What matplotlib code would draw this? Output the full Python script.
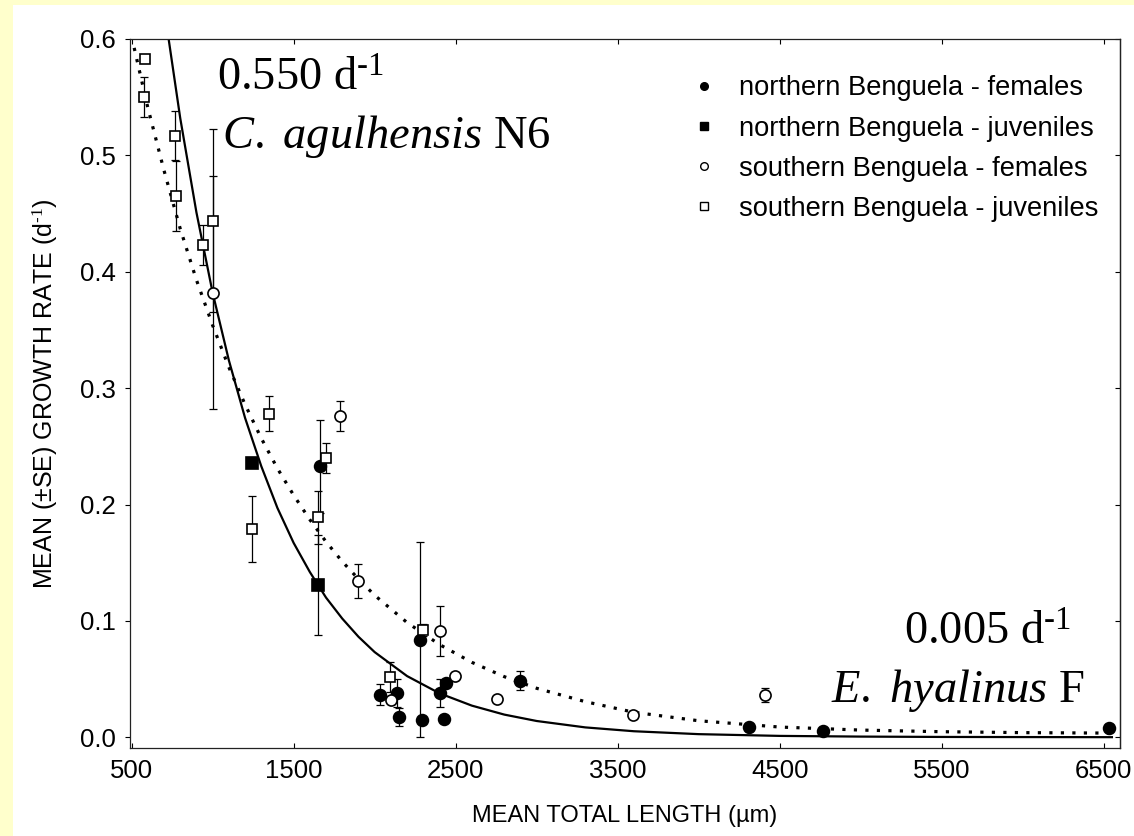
import matplotlib.pyplot as plt
from matplotlib.lines import Line2D
from matplotlib.patches import Rectangle

plt.rcParams['font.family'] = ['Liberation Sans', 'DejaVu Sans']
plt.rcParams['mathtext.fontset'] = 'custom'
plt.rcParams['mathtext.rm'] = 'Liberation Serif'
plt.rcParams['mathtext.it'] = 'Liberation Serif:italic'
plt.rcParams['mathtext.sf'] = 'Liberation Sans'

#%% data

# northern Benguela - females
nf_x = [1664, 2278, 2031, 2138, 2150, 2294, 2426, 2405, 2442, 2895, 4313, 4764, 6533]
nf_y = [0.233, 0.084, 0.0365, 0.038, 0.0174, 0.015, 0.016, 0.038, 0.0466, 0.0486, 0.009, 0.0056, 0.0084]
nf_err = [0.040, 0.084, 0.009, 0.012, 0.008, 0.0, 0.0, 0.012, 0.0, 0.008, 0.0, 0.0, 0.0]

# northern Benguela - juveniles
nj_x = [1245, 1650]
nj_y = [0.236, 0.1305]
nj_err = [0.0, 0.043]

# southern Benguela - females
sf_x = [1000, 1784, 1897, 2401, 2103, 2498, 2757, 3593, 4407]
sf_y = [0.382, 0.276, 0.134, 0.091, 0.032, 0.053, 0.033, 0.0193, 0.0365]
sf_err = [0.100, 0.013, 0.0145, 0.0215, 0.0, 0.003, 0.002, 0.003, 0.006]

# southern Benguela - juveniles
sj_x = [580, 576, 770, 776, 940, 1002, 1346, 1245, 1698, 1650, 2298, 2093]
sj_y = [0.583, 0.550, 0.517, 0.465, 0.423, 0.444, 0.278, 0.179, 0.240, 0.189, 0.092, 0.052]
sj_err = [0.0, 0.017, 0.021, 0.030, 0.017, 0.079, 0.015, 0.0285, 0.013, 0.023, 0.005, 0.013]

# fitted curves
fit_x = [500, 600, 700, 800, 900, 1000, 1100, 1200, 1300, 1400, 1500, 1600, 1700, 1800,
         1900, 2000, 2200, 2400, 2600, 2800, 3000, 3300, 3600, 4000, 4500, 5000, 5500,
         6000, 6550]
solid_y = [0.873, 0.739, 0.627, 0.532, 0.451, 0.382, 0.324, 0.2745, 0.233, 0.197, 0.167,
           0.142, 0.120, 0.102, 0.0864, 0.0732, 0.0526, 0.0378, 0.0272, 0.0195, 0.014,
           0.0085, 0.0052, 0.0027, 0.0012, 0.0006, 0.0003, 0.0002, 0.0001]
dotted_y = [0.602, 0.541, 0.487, 0.437, 0.393, 0.354, 0.318, 0.286, 0.257, 0.231, 0.208,
            0.187, 0.168, 0.151, 0.136, 0.122, 0.0986, 0.0797, 0.0644, 0.0521, 0.0421,
            0.0306, 0.0215, 0.0142, 0.0088, 0.0062, 0.0048, 0.0040, 0.0036]

labels = ['northern Benguela - females', 'northern Benguela - juveniles',
          'southern Benguela - females', 'southern Benguela - juveniles']
x_ticks = [500, 1500, 2500, 3500, 4500, 5500, 6500]
y_ticks = [0.0, 0.1, 0.2, 0.3, 0.4, 0.5, 0.6]

#%% figure

fig = plt.figure(figsize=(11.34, 8.36), dpi=100)
fig.patch.set_facecolor('#FFFFCC')
fig.add_artist(Rectangle((13/1134, 0), 1 - 13/1134, 1 - 5/836, transform=fig.transFigure,
                         facecolor='white', edgecolor='none', zorder=-5))

ax = fig.add_axes([130/1134, 1 - 748/836, 990/1134, 709/836])

ax.plot(fit_x, solid_y, color='k', lw=1.6, zorder=2)
ax.plot(fit_x, dotted_y, color='k', lw=2.3, linestyle=(0, (1.0, 2.6)), zorder=2)

series = [(nf_x, nf_y, nf_err, 'o', 'k', 8.5),
          (nj_x, nj_y, nj_err, 's', 'k', 8.0),
          (sf_x, sf_y, sf_err, 'o', 'white', 8.0),
          (sj_x, sj_y, sj_err, 's', 'white', 7.8)]

for x, y, e, m, fc, ms in series:
    ax.errorbar(x, y, yerr=e, fmt='none', ecolor='k', elinewidth=0.9,
                capsize=2.6, capthick=0.9, zorder=3)
    ax.plot(x, y, ls='none', marker=m, ms=ms, mfc=fc, mec='k', mew=1.2, zorder=4)

handles = [Line2D([], [], ls='none', marker=m, ms=5.5, mfc=fc, mec='k', mew=1.0)
           for _, _, _, m, fc, _ in series]
ax.legend(handles, labels, loc='upper left', bbox_to_anchor=(0.5657, 0.9486),
          frameon=False, fontsize=19.6, handlelength=1.05, handletextpad=0.75,
          labelspacing=0.52, borderpad=0, borderaxespad=0)

ax.set_xlim(490, 6600)
ax.set_ylim(-0.0092, 0.6)
ax.set_xticks(x_ticks)
ax.set_yticks(y_ticks)
ax.set_yticklabels([f'{v:.1f}' for v in y_ticks])

ax.tick_params(axis='x', direction='in', top=True, length=3.5, width=0.8,
               labelsize=18.5, pad=8)
ax.tick_params(axis='y', direction='out', length=3.5, width=0.8, labelsize=18.5, pad=7)
ax_r = ax.secondary_yaxis('right')
ax_r.set_yticks(y_ticks)
ax_r.tick_params(direction='in', length=3.5, width=0.8, labelright=False)
for sp in list(ax.spines.values()) + [ax_r.spines['right']]:
    sp.set_linewidth(0.9)
    sp.set_color('#222222')

ax.set_xlabel('MEAN TOTAL LENGTH (µm)', fontsize=17, labelpad=16)
ax.set_ylabel('MEAN (±SE) GROWTH RATE (d$^{\\mathsf{\u2010}1}$)', fontsize=18, labelpad=14)

# rate annotations
ax.text(0.0879, 0.9267, '0.550 d$^{\\mathrm{\u2010}1}$', transform=ax.transAxes,
        family='Liberation Serif', fontsize=33.5, va='baseline', ha='left')
ax.text(0.093, 0.846, r'$\mathit{C.\ agulhensis}$ N6', transform=ax.transAxes,
        family='Liberation Serif', fontsize=33.5, va='baseline', ha='left')
ax.text(0.9505, 0.1453, '0.005 d$^{\\mathrm{\u2010}1}$', transform=ax.transAxes,
        family='Liberation Serif', fontsize=33.5, va='baseline', ha='right')
ax.text(0.9646, 0.0649, r'$\mathit{E.\ hyalinus}$ F', transform=ax.transAxes,
        family='Liberation Serif', fontsize=33.5, va='baseline', ha='right')

plt.savefig('out.png', dpi=100, facecolor=fig.get_facecolor())
